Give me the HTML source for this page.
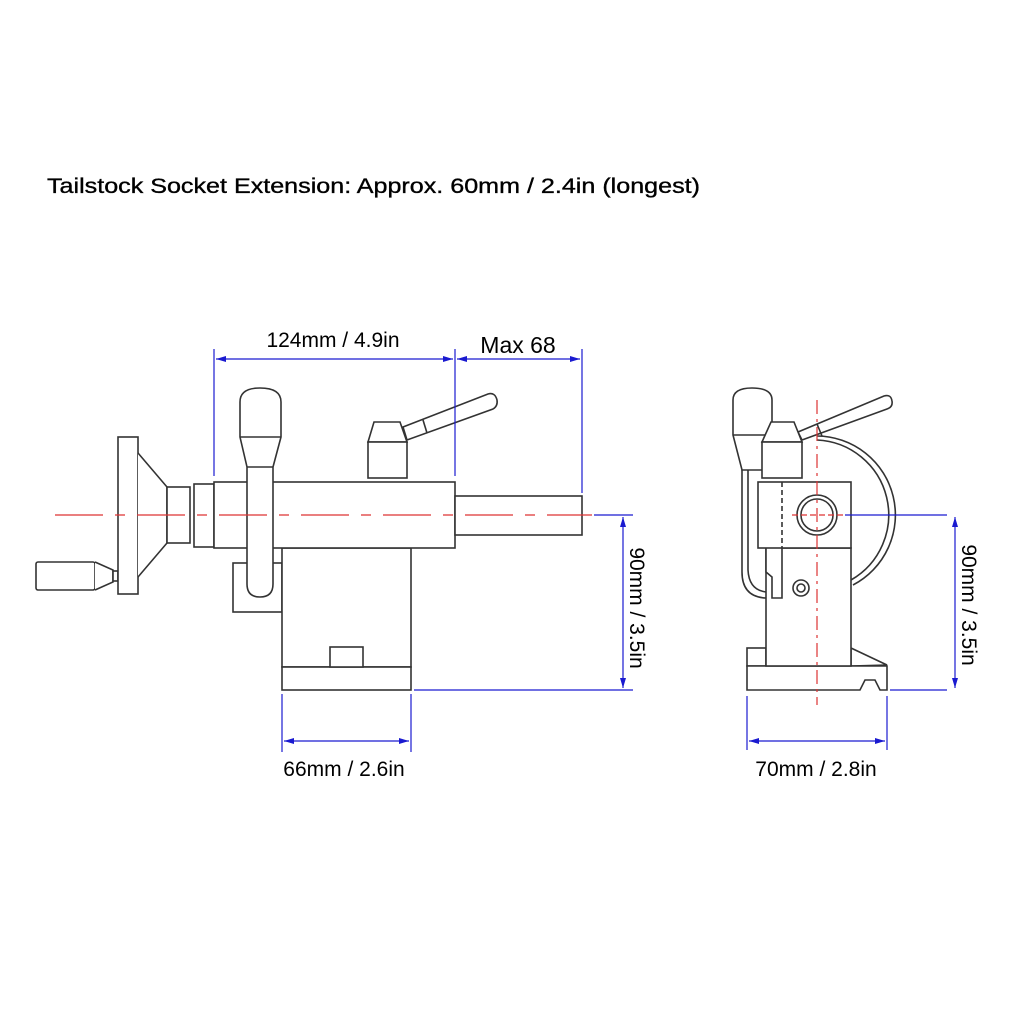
<!DOCTYPE html>
<html><head><meta charset="utf-8"><style>
html,body{margin:0;padding:0;background:#fff;}
svg{display:block;}
text{font-family:"Liberation Sans",Arial,sans-serif;fill:#000;}
</style></head><body>
<svg width="1024" height="1024" viewBox="0 0 1024 1024" xmlns="http://www.w3.org/2000/svg">
<defs>
<marker id="a" viewBox="0 0 10 6" refX="10" refY="3" markerWidth="10" markerHeight="6" orient="auto-start-reverse" markerUnits="userSpaceOnUse">
<path d="M0,0 L10,3 L0,6 z" fill="#1a1ad0"/></marker>
</defs>
<text x="47" y="193" font-size="21" textLength="653" lengthAdjust="spacingAndGlyphs" stroke="#000" stroke-width="0.35">Tailstock Socket Extension: Approx. 60mm / 2.4in (longest)</text>

<!-- LEFT VIEW drawing -->
<g fill="#fff" stroke="#333" stroke-width="1.6">
  <rect x="233" y="563" width="49" height="49"/>
  <rect x="282" y="548" width="129" height="119"/>
  <rect x="282" y="667" width="129" height="23"/>
  <rect x="330" y="647" width="33" height="20"/>
  <rect x="36" y="562" width="59" height="28" rx="2"/>
  <path d="M95,562 L113,570 L113,582 L95,590"/>
  <rect x="113" y="571" width="5" height="10"/>
  <rect x="118" y="437" width="20" height="157"/>
  <path d="M138,453 L167,487 L167,543 L138,577"/>
  <rect x="167" y="487" width="23" height="56"/>
  <rect x="194" y="484" width="20" height="63"/>
  <rect x="214" y="482" width="241" height="66"/>
  <rect x="455" y="496" width="127" height="39"/>
  <path d="M240,437 L240,402 Q240,388 260,388 Q281,388 281,402 L281,437 L273,467 L273,584 Q273,597 260,597 Q247,597 247,584 L247,467 Z"/>
  <line x1="240" y1="437" x2="281" y2="437"/>
  <line x1="247" y1="467" x2="273" y2="467"/>
  <path d="M403,427 L488,394 Q495,392 497,400 Q498,406 493,409 L407,440 Z"/>
  <line x1="423" y1="420" x2="427" y2="433"/>
  <path d="M368,442 L374,422 L400,422 L407,442 Z"/>
  <rect x="368" y="442" width="39" height="36"/>
</g>
<line x1="55" y1="515" x2="592" y2="515" stroke="#d33" stroke-width="1.3" stroke-dasharray="48,12,10,12"/>

<g stroke="#1a1ad0" stroke-width="1.2" fill="none">
  <line x1="214" y1="349" x2="214" y2="476"/>
  <line x1="455" y1="349" x2="455" y2="476"/>
  <line x1="582" y1="349" x2="582" y2="493"/>
  <line x1="216" y1="359" x2="453" y2="359" marker-start="url(#a)" marker-end="url(#a)"/>
  <line x1="457" y1="359" x2="580" y2="359" marker-start="url(#a)" marker-end="url(#a)"/>
  <line x1="594" y1="515" x2="633" y2="515"/>
  <line x1="414" y1="690" x2="633" y2="690"/>
  <line x1="623" y1="517" x2="623" y2="688" marker-start="url(#a)" marker-end="url(#a)"/>
  <line x1="282" y1="694" x2="282" y2="752"/>
  <line x1="411" y1="694" x2="411" y2="752"/>
  <line x1="284" y1="741" x2="409" y2="741" marker-start="url(#a)" marker-end="url(#a)"/>
</g>
<text x="333" y="347" font-size="21" text-anchor="middle">124mm / 4.9in</text>
<text x="518" y="353" font-size="23" text-anchor="middle">Max 68</text>
<text x="344" y="776" font-size="21" text-anchor="middle">66mm / 2.6in</text>
<text transform="translate(630,608) rotate(90)" font-size="21" text-anchor="middle">90mm / 3.5in</text>

<!-- RIGHT VIEW -->
<g fill="#fff" stroke="#333" stroke-width="1.6">
  <path d="M742,470 L742,572 Q742,597 766,598 L782,598" fill="none"/>
  <path d="M748,470 L748,570 Q749,590 766,592" fill="none"/>
  <path d="M817,436 A79,79 0 0 1 853,585" fill="none"/>
  <path d="M817,440 A75,75 0 0 1 851,580" fill="none"/>
  <rect x="747" y="648" width="19" height="18"/>
  <path d="M851,648 L887,665 L851,666 Z"/>
  <path d="M747,666 L887,666 L887,690 L880,690 L875,680 L865,680 L860,690 L747,690 Z"/>
  <rect x="766" y="548" width="85" height="118"/>
  <path d="M766,548 L766,572 L772,577 L772,598 L782,598 L782,548"/>
  <rect x="758" y="482" width="93" height="66"/>
  <line x1="782" y1="482" x2="782" y2="548" stroke-dasharray="5,3"/>
  <circle cx="817" cy="515" r="20"/>
  <circle cx="817" cy="515" r="16"/>
  <circle cx="801" cy="588" r="8"/>
  <circle cx="801" cy="588" r="4"/>
  <path d="M733,435 L733,400 Q733,388 752,388 Q772,388 772,400 L772,435 L762,470 L742,470 Z"/>
  <line x1="733" y1="435" x2="772" y2="435"/>
  <path d="M798,432 L884,396 Q891,394 892,401 Q893,407 887,409 L802,440 Z"/>
  <line x1="817" y1="424" x2="822" y2="436"/>
  <path d="M762,442 L771,422 L794,422 L802,442 Z"/>
  <rect x="762" y="442" width="40" height="36"/>
</g>
<line x1="817" y1="400" x2="817" y2="705" stroke="#d33" stroke-width="1.2" stroke-dasharray="14,5,3,5"/>
<line x1="792" y1="515" x2="843" y2="515" stroke="#d33" stroke-width="1.2" stroke-dasharray="6,3"/>
<g stroke="#1a1ad0" stroke-width="1.2" fill="none">
  <line x1="845" y1="515" x2="947" y2="515"/>
  <line x1="890" y1="690" x2="947" y2="690"/>
  <line x1="955" y1="517" x2="955" y2="688" marker-start="url(#a)" marker-end="url(#a)"/>
  <line x1="747" y1="696" x2="747" y2="750"/>
  <line x1="887" y1="696" x2="887" y2="750"/>
  <line x1="749" y1="741" x2="885" y2="741" marker-start="url(#a)" marker-end="url(#a)"/>
</g>
<text x="816" y="776" font-size="21" text-anchor="middle">70mm / 2.8in</text>
<text transform="translate(962,605) rotate(90)" font-size="21" text-anchor="middle">90mm / 3.5in</text>
</svg>
</body></html>
